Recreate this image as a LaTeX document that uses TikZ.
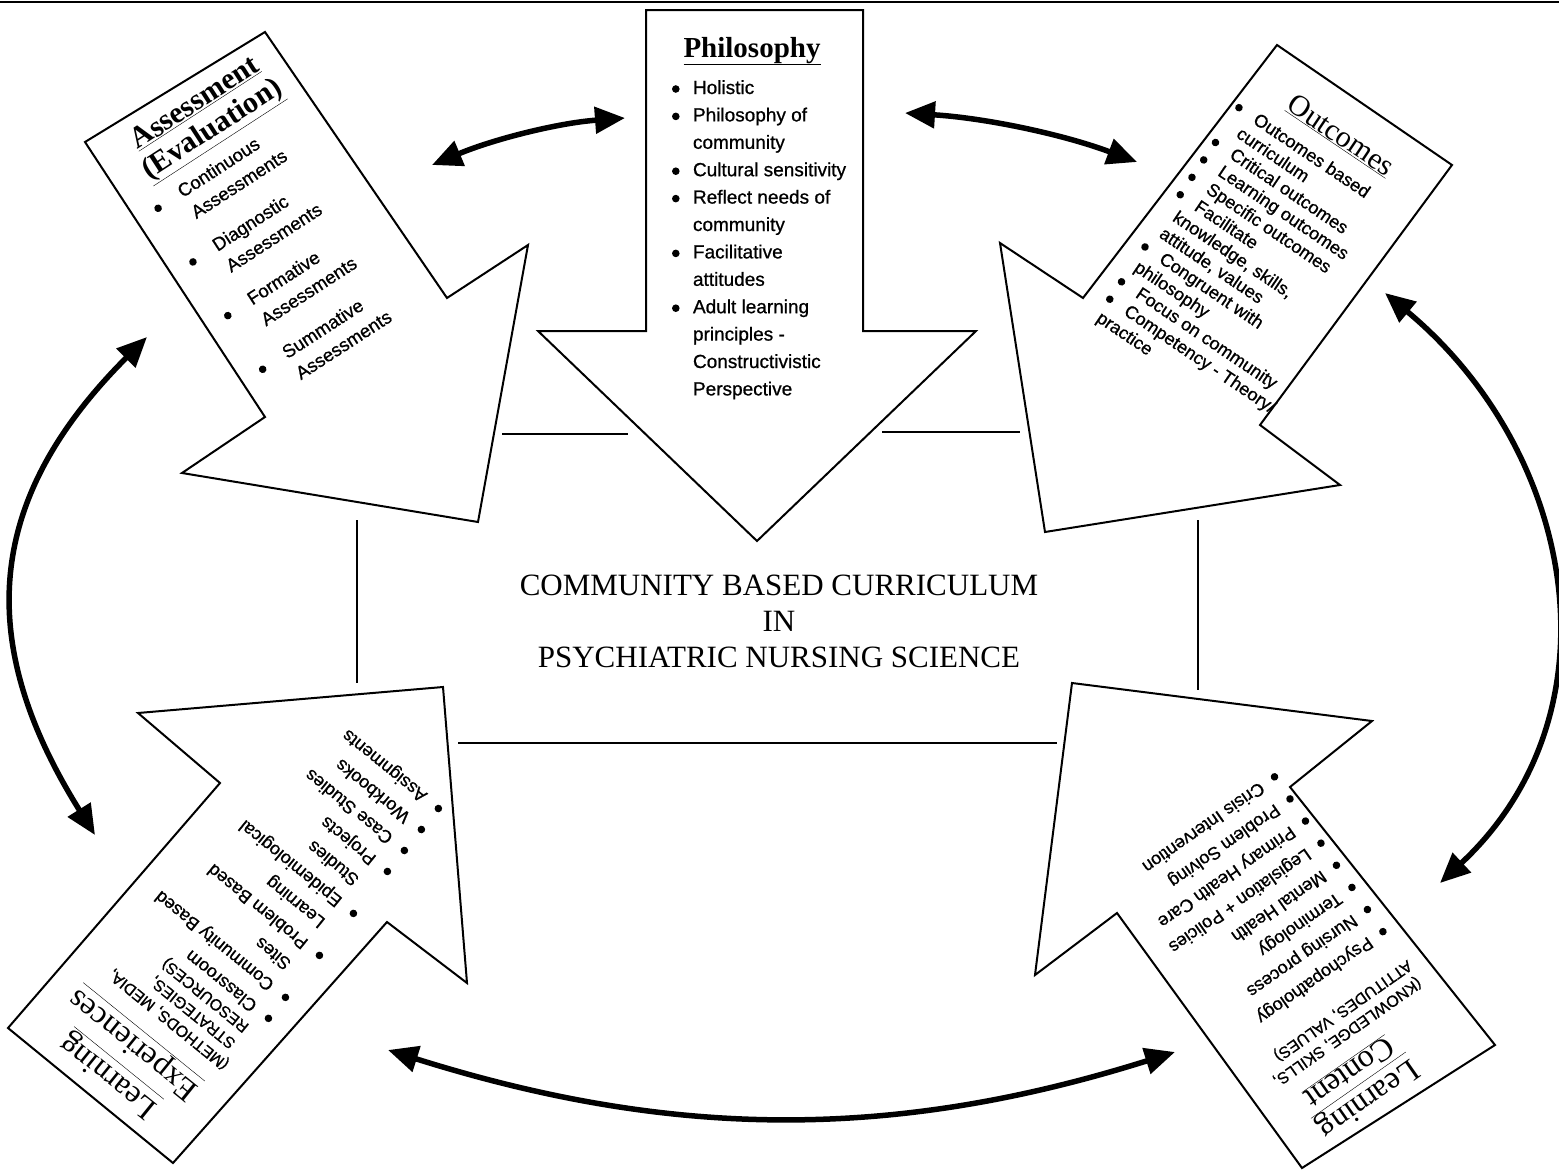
\documentclass[tikz,border=0pt]{standalone}
\usepackage{fontspec}
\setmainfont{Liberation Serif}
\setsansfont[FakeBold=0.8]{Liberation Sans}
\usetikzlibrary{arrows.meta}
\newcommand\bul{\tikz[baseline=-5pt]\fill (0,0) circle[radius=3.8pt];}
\newcommand\Lt[2]{\par\nointerlineskip\vskip#1\relax\hbox to\hsize{\hss\smash{#2}\hss}}
\newcommand\Ll[3]{\par\nointerlineskip\vskip#1\relax\hbox to\hsize{\hskip#2\relax\smash{#3}\hss}}
\newcommand\Lb[4]{\par\nointerlineskip\vskip#1\relax\hbox to\hsize{\smash{\rlap{\hskip#2\relax\bul}}\hskip#3\relax\smash{#4}\hss}}
\newcommand\stack[2]{\vtop{\hsize=#1\relax\parindent=0pt\relax #2}}
\newcommand\ttlb[2]{{\rmfamily\bfseries\fontsize{#1}{#1}\selectfont\underline{#2}}}
\newcommand\ttlr[2]{{\rmfamily\fontsize{#1}{#1}\selectfont\underline{#2}}}
\newcommand\capsf{\fontsize{16}{16}\selectfont}
\begin{document}
\begin{tikzpicture}[x=1pt,y=-1pt,
  arrshape/.style={draw=black, line width=2pt, line join=miter, fill=white},
  framelin/.style={line width=2.6pt},
  dbl/.style={line width=5.5pt, {Triangle[length=30pt,width=26pt]}-{Triangle[length=30pt,width=26pt]}},
  txtbox/.style={inner sep=0pt, anchor=base, font=\sffamily\fontsize{18}{18}\selectfont}]
\useasboundingbox (0,0) rectangle (1559,1173);
\fill[white] (0,0) rectangle (1559,1173);
\draw[line width=1.5pt] (0,2) -- (1559,2);

% arrow shapes
\draw[arrshape] (85,142) -- (265,32) -- (447,298) -- (528,245) -- (478,522) -- (182,473) -- (265,417) -- cycle;
\draw[arrshape] (646,10) -- (863,10) -- (863,331) -- (976,331) -- (757,541) -- (538,331) -- (646,331) -- cycle;
\draw[arrshape] (1083,298) -- (1277,45) -- (1452,165) -- (1260,425) -- (1340,485) -- (1045,532) -- (1000,243) -- cycle;
\draw[arrshape] (138,713) -- (443,687) -- (467,983) -- (387,922) -- (173,1163) -- (8,1028) -- (220,783) -- cycle;
\draw[arrshape] (1072,683) -- (1372,721) -- (1290,787) -- (1495,1045) -- (1302,1168) -- (1117,913) -- (1035,975) -- cycle;

% central frame lines
\draw[framelin] (502,434) -- (628,434);
\draw[framelin] (882,432) -- (1020,432);
\draw[framelin] (357,520) -- (357,683);
\draw[framelin] (1198,520) -- (1198,690);
\draw[framelin] (458,743) -- (1057,743);

% connector end points
\coordinate (tlA) at (432,165); \coordinate (tlB) at (625,118);
\coordinate (trA) at (905,113); \coordinate (trB) at (1137,162);
\coordinate (rA) at (1385,293); \coordinate (rB) at (1440,883);
\coordinate (lA) at (147,337); \coordinate (lB) at (95,835);
\coordinate (bA) at (388,1050); \coordinate (bB) at (1175,1052);

\draw[dbl] (tlA) .. controls (494,139) and (558,123) .. (tlB);
\draw[dbl] (trA) .. controls (985,118) and (1062,134) .. (trB);
\draw[dbl] (rA) .. controls (1577,453) and (1622,713) .. (rB);
\draw[dbl] (lA) .. controls (-14,498) and (-27,640) .. (lB);
\draw[dbl] (bA) .. controls (671,1139) and (892,1141) .. (bB);

% centre title
\node[font=\rmfamily\fontsize{31}{36}\selectfont, align=center, inner sep=0pt] (ctr) at (779,621)
  {COMMUNITY BASED CURRICULUM\\IN\\PSYCHIATRIC NURSING SCIENCE};

% Philosophy
\node[txtbox, font=\sffamily\fontsize{19}{19}\selectfont] (phil) at (752,57) {\stack{164pt}{%
 \Lt{0pt}{\ttlb{29}{Philosophy}}%
 \Lb{37pt}{2pt}{23pt}{Holistic}%
 \Lb{27.4pt}{2pt}{23pt}{Philosophy of}%
 \Ll{27.4pt}{23pt}{community}%
 \Lb{27.4pt}{2pt}{23pt}{Cultural sensitivity}%
 \Lb{27.4pt}{2pt}{23pt}{Reflect needs of}%
 \Ll{27.4pt}{23pt}{community}%
 \Lb{27.4pt}{2pt}{23pt}{Facilitative}%
 \Ll{27.4pt}{23pt}{attitudes}%
 \Lb{27.4pt}{2pt}{23pt}{Adult learning}%
 \Ll{27.4pt}{23pt}{principles -}%
 \Ll{27.4pt}{23pt}{Constructivistic}%
 \Ll{27.4pt}{23pt}{Perspective}}};

% Assessment
\node[txtbox, rotate=33, font=\sffamily\fontsize{18.5}{18.5}\selectfont] (assess) at (199.4,109.9) {\stack{184pt}{%
 \Lt{0pt}{\ttlb{30}{Assessment}}%
 \Lt{31pt}{\ttlb{30}{(Evaluation)}}%
 \Lb{34pt}{0pt}{30pt}{Continuous}%
 \Ll{25pt}{30pt}{Assessments}%
 \Lb{39pt}{0pt}{30pt}{Diagnostic}%
 \Ll{25pt}{30pt}{Assessments}%
 \Lb{39pt}{0pt}{30pt}{Formative}%
 \Ll{25pt}{30pt}{Assessments}%
 \Lb{39pt}{0pt}{30pt}{Summative}%
 \Ll{25pt}{30pt}{Assessments}}};

% Outcomes
\node[txtbox, rotate=-34] (outc) at (1336,143) {\stack{208pt}{%
 \Lt{0pt}{\ttlr{30}{Outcomes}}%
 \Lb{30pt}{0pt}{23pt}{Outcomes based}%
 \Ll{21pt}{17pt}{curriculum}%
 \Lb{21pt}{0pt}{23pt}{Critical outcomes}%
 \Lb{21pt}{0pt}{23pt}{Learning outcomes}%
 \Lb{21pt}{0pt}{23pt}{Specific outcomes}%
 \Lb{21pt}{0pt}{23pt}{Facilitate}%
 \Ll{21pt}{11pt}{knowledge, skills,}%
 \Ll{21pt}{9pt}{attitude, values}%
 \Lb{21pt}{0pt}{23pt}{Congruent with}%
 \Ll{21pt}{7pt}{philosophy}%
 \Lb{21pt}{0pt}{23pt}{Focus on community}%
 \Lb{21pt}{0pt}{23pt}{Competency - Theory/}%
 \Ll{21pt}{4pt}{practice}}};

% Learning Experiences
\node[txtbox, rotate=141] (lexp) at (113.7,1069.3) {\stack{184pt}{%
 \Lt{0pt}{\ttlr{32}{Learning}}%
 \Lt{40pt}{\ttlr{32}{Experiences}}%
 \Ll{38pt}{6pt}{\capsf (METHODS, MEDIA,}%
 \Ll{21pt}{14pt}{\capsf STRATEGIES,}%
 \Ll{21pt}{14pt}{\capsf RESOURCES)}%
 \Lb{22pt}{0pt}{21pt}{Classroom}%
 \Lb{27pt}{0pt}{21pt}{Community Based}%
 \Ll{27pt}{21pt}{Sites}%
 \Lb{27pt}{0pt}{21pt}{Problem Based}%
 \Ll{27pt}{21pt}{Learning}%
 \Lb{27pt}{0pt}{21pt}{Epidemiological}%
 \Ll{27pt}{21pt}{Studies}%
 \Lb{27pt}{0pt}{21pt}{Projects}%
 \Lb{27pt}{0pt}{21pt}{Case Studies}%
 \Lb{27pt}{0pt}{21pt}{Workbooks}%
 \Lb{27pt}{0pt}{21pt}{Assignments}}};

% Learning Content
\node[txtbox, rotate=-145] (lcont) at (1363.1,1092) {\stack{224pt}{%
 \Lt{0pt}{\ttlr{32}{Learning}}%
 \Lt{33pt}{\ttlr{32}{Content}}%
 \Ll{30pt}{2pt}{\capsf (KNOWLEDGE, SKILLS,}%
 \Ll{20pt}{0pt}{\capsf ATTITUDES, VALUES)}%
 \Lb{42pt}{0pt}{19pt}{Psychopathology}%
 \Lb{27pt}{0pt}{19pt}{Nursing process}%
 \Lb{27pt}{0pt}{19pt}{Terminology}%
 \Lb{27pt}{0pt}{19pt}{Mental Health}%
 \Lb{27pt}{0pt}{19pt}{Legislation + Policies}%
 \Lb{27pt}{0pt}{19pt}{Primary Health Care}%
 \Lb{27pt}{0pt}{19pt}{Problem Solving}%
 \Lb{27pt}{0pt}{19pt}{Crisis Intervention}}};
\end{tikzpicture}
\end{document}
